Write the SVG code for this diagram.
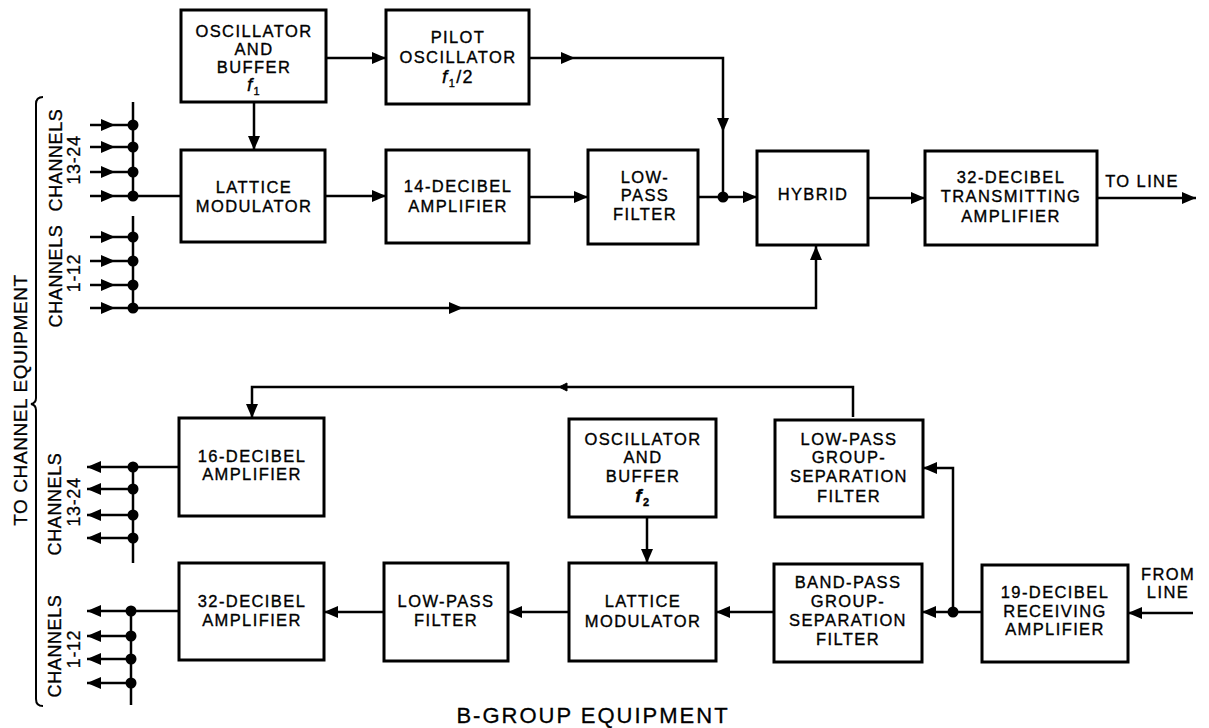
<svg xmlns="http://www.w3.org/2000/svg" width="1209" height="728" viewBox="0 0 1209 728">
<style>
.box{fill:none;stroke:#000;stroke-width:3}
.t{font-family:"Liberation Sans",Arial,sans-serif;font-size:16.5px;letter-spacing:1.4px;text-anchor:middle;fill:#000;stroke:#000;stroke-width:0.35}
.r{font-family:"Liberation Sans",Arial,sans-serif;font-size:18px;letter-spacing:0.6px;text-anchor:middle;fill:#000;stroke:#000;stroke-width:0.3}
.c path{fill:none;stroke:#000;stroke-width:2.5}
.dot{fill:#000}
.fi{font-style:italic;font-size:19px}
.sb{font-size:11px}
</style>
<defs>
<marker id="ah" markerUnits="userSpaceOnUse" markerWidth="14" markerHeight="12" refX="14" refY="6" orient="auto">
<path d="M0,0 L14,6 L0,12 z" fill="#000"/>
</marker>
</defs>
<rect width="1209" height="728" fill="#fff"/>

<!-- nodes -->
<g id="osc1"><rect class="box" x="181" y="10" width="145" height="92"/>
<text class="t" x="254" y="37">OSCILLATOR</text><text class="t" x="254" y="55">AND</text><text class="t" x="254" y="73">BUFFER</text>
<text class="t" x="254" y="91"><tspan class="fi">f</tspan><tspan class="sb" dy="4">1</tspan></text></g>
<g id="pilot"><rect class="box" x="386" y="10" width="143" height="94"/>
<text class="t" x="458" y="43">PILOT</text><text class="t" x="458" y="63">OSCILLATOR</text>
<text class="t" x="458" y="83"><tspan class="fi">f</tspan><tspan class="sb" dy="4">1</tspan><tspan dy="-4" font-size="18px">/2</tspan></text></g>
<g id="lat1"><rect class="box" x="181" y="150" width="144" height="92"/>
<text class="t" x="254" y="193">LATTICE</text><text class="t" x="254" y="212">MODULATOR</text></g>
<g id="amp14"><rect class="box" x="386" y="150" width="143" height="93"/>
<text class="t" x="458" y="192">14-DECIBEL</text><text class="t" x="458" y="212">AMPLIFIER</text></g>
<g id="lpf1"><rect class="box" x="588" y="150" width="110" height="94"/>
<text class="t" x="645" y="183">LOW-</text><text class="t" x="645" y="201">PASS</text><text class="t" x="645" y="220">FILTER</text></g>
<g id="hybrid"><rect class="box" x="757" y="151" width="111" height="94"/>
<text class="t" x="813" y="200">HYBRID</text></g>
<g id="tx32"><rect class="box" x="925" y="151" width="172" height="94"/>
<text class="t" x="1011" y="183">32-DECIBEL</text><text class="t" x="1011" y="202">TRANSMITTING</text><text class="t" x="1011" y="222">AMPLIFIER</text></g>
<g id="toline"><text class="t" x="1142" y="187">TO LINE</text></g>

<g id="amp16"><rect class="box" x="179" y="418" width="145" height="98"/>
<text class="t" x="252" y="462">16-DECIBEL</text><text class="t" x="252" y="480">AMPLIFIER</text></g>
<g id="amp32"><rect class="box" x="179" y="563" width="145" height="97"/>
<text class="t" x="252" y="607">32-DECIBEL</text><text class="t" x="252" y="626">AMPLIFIER</text></g>
<g id="lpf2"><rect class="box" x="384" y="563" width="124" height="98"/>
<text class="t" x="446" y="607">LOW-PASS</text><text class="t" x="446" y="626">FILTER</text></g>
<g id="lat2"><rect class="box" x="569" y="563" width="147" height="98"/>
<text class="t" x="643" y="607">LATTICE</text><text class="t" x="643" y="627">MODULATOR</text></g>
<g id="osc2"><rect class="box" x="569" y="419" width="147" height="98"/>
<text class="t" x="643" y="445">OSCILLATOR</text><text class="t" x="643" y="463">AND</text><text class="t" x="643" y="482">BUFFER</text>
<text class="t" x="643" y="502" font-weight="bold"><tspan class="fi">f</tspan><tspan class="sb" dy="4" font-size="12px">2</tspan></text></g>
<g id="lpgs"><rect class="box" x="775" y="420" width="148" height="97"/>
<text class="t" x="849" y="445">LOW-PASS</text><text class="t" x="849" y="463">GROUP-</text><text class="t" x="849" y="482">SEPARATION</text><text class="t" x="849" y="502">FILTER</text></g>
<g id="bpgs"><rect class="box" x="774" y="564" width="148" height="98"/>
<text class="t" x="848" y="588">BAND-PASS</text><text class="t" x="848" y="607">GROUP-</text><text class="t" x="848" y="626">SEPARATION</text><text class="t" x="848" y="645">FILTER</text></g>
<g id="rx19"><rect class="box" x="982" y="565" width="146" height="97"/>
<text class="t" x="1055" y="598">19-DECIBEL</text><text class="t" x="1055" y="617">RECEIVING</text><text class="t" x="1055" y="635">AMPLIFIER</text></g>
<g id="fromline"><text class="t" x="1168" y="580">FROM</text><text class="t" x="1168" y="598">LINE</text></g>

<!-- side labels -->
<g id="labels">
<text class="r" transform="translate(62,160) rotate(-90)">CHANNELS</text>
<text class="r" transform="translate(80,160) rotate(-90)">13-24</text>
<text class="r" transform="translate(62,276) rotate(-90)">CHANNELS</text>
<text class="r" transform="translate(80,273) rotate(-90)">1-12</text>
<text class="r" transform="translate(61,504) rotate(-90)">CHANNELS</text>
<text class="r" transform="translate(80,502) rotate(-90)">13-24</text>
<text class="r" transform="translate(61,646) rotate(-90)">CHANNELS</text>
<text class="r" transform="translate(80,649) rotate(-90)">1-12</text>
<text class="r" style="font-size:19px;letter-spacing:0.6px" transform="translate(27,400) rotate(-90)">TO CHANNEL EQUIPMENT</text>
<path d="M43,97 Q36,97 36,104 L36,398 Q36,403 31,404 Q36,405 36,410 L36,699 Q36,706 43,706" fill="none" stroke="#000" stroke-width="2"/>
<text x="593" y="723" style="font-family:'Liberation Sans',Arial,sans-serif;font-size:22px;letter-spacing:2px;text-anchor:middle;stroke:#000;stroke-width:0.3">B-GROUP EQUIPMENT</text>
</g>

<!-- connectors -->
<g id="connectors" class="c">
<path d="M326,58 L386,58" marker-end="url(#ah)"/>
<path d="M254,102 L254,150" marker-end="url(#ah)"/>
<path d="M529,58 L575,58" marker-end="url(#ah)"/>
<path d="M575,58 L723,58 L723,132" marker-end="url(#ah)"/>
<path d="M723,132 L723,197"/>
<path d="M133,102 L133,196"/>
<path d="M90,125 L115,125" marker-end="url(#ah)"/><path d="M115,125 L133,125"/>
<path d="M90,147 L115,147" marker-end="url(#ah)"/><path d="M115,147 L133,147"/>
<path d="M90,172 L115,172" marker-end="url(#ah)"/><path d="M115,172 L133,172"/>
<path d="M90,196 L115,196" marker-end="url(#ah)"/><path d="M115,196 L181,196"/>
<path d="M325,196 L386,196" marker-end="url(#ah)"/>
<path d="M529,197 L588,197" marker-end="url(#ah)"/>
<path d="M698,197 L757,197" marker-end="url(#ah)"/>
<path d="M133,216 L133,308"/>
<path d="M90,237 L115,237" marker-end="url(#ah)"/><path d="M115,237 L133,237"/>
<path d="M90,261 L115,261" marker-end="url(#ah)"/><path d="M115,261 L133,261"/>
<path d="M90,285 L115,285" marker-end="url(#ah)"/><path d="M115,285 L133,285"/>
<path d="M90,308 L115,308" marker-end="url(#ah)"/><path d="M115,308 L133,308"/>
<path d="M133,308 L463,308" marker-end="url(#ah)"/>
<path d="M463,308 L816,308 L816,246" marker-end="url(#ah)"/>
<path d="M868,198 L925,198" marker-end="url(#ah)"/>
<path d="M1097,198 L1196,198" marker-end="url(#ah)"/>

<path d="M853,417 L853,387 L252,387 L252,418" marker-end="url(#ah)"/>
<path d="M567,383 L559,387 L567,391 z" style="fill:#000;stroke-width:1"/>
<path d="M179,467 L133,467"/>
<path d="M133,462 L133,563"/>
<path d="M133,467 L87,467" marker-end="url(#ah)"/>
<path d="M133,489 L87,489" marker-end="url(#ah)"/>
<path d="M133,515 L87,515" marker-end="url(#ah)"/>
<path d="M133,538 L87,538" marker-end="url(#ah)"/>
<path d="M179,611 L131,611"/>
<path d="M131,607 L131,705"/>
<path d="M131,611 L87,611" marker-end="url(#ah)"/>
<path d="M131,636 L87,636" marker-end="url(#ah)"/>
<path d="M131,659 L87,659" marker-end="url(#ah)"/>
<path d="M131,683 L87,683" marker-end="url(#ah)"/>
<path d="M384,612 L324,612" marker-end="url(#ah)"/>
<path d="M569,612 L508,612" marker-end="url(#ah)"/>
<path d="M647,517 L647,563" marker-end="url(#ah)"/>
<path d="M774,612 L716,612" marker-end="url(#ah)"/>
<path d="M982,612 L922,612" marker-end="url(#ah)"/>
<path d="M953,612 L953,468 L923,468" marker-end="url(#ah)"/>
<path d="M1193,613 L1128,613" marker-end="url(#ah)"/>
</g>
<g id="dots">
<circle class="dot" cx="133" cy="125" r="5.5"/><circle class="dot" cx="133" cy="147" r="5.5"/><circle class="dot" cx="133" cy="172" r="5.5"/><circle class="dot" cx="133" cy="196" r="5.5"/>
<circle class="dot" cx="133" cy="237" r="5.5"/><circle class="dot" cx="133" cy="261" r="5.5"/><circle class="dot" cx="133" cy="285" r="5.5"/><circle class="dot" cx="133" cy="308" r="5.5"/>
<circle class="dot" cx="723" cy="197" r="5.5"/>
<circle class="dot" cx="133" cy="467" r="5.5"/><circle class="dot" cx="133" cy="489" r="5.5"/><circle class="dot" cx="133" cy="515" r="5.5"/><circle class="dot" cx="133" cy="538" r="5.5"/>
<circle class="dot" cx="131" cy="611" r="5.5"/><circle class="dot" cx="131" cy="636" r="5.5"/><circle class="dot" cx="131" cy="659" r="5.5"/><circle class="dot" cx="131" cy="683" r="5.5"/>
<circle class="dot" cx="953" cy="612" r="5.5"/>
</g>
</svg>
